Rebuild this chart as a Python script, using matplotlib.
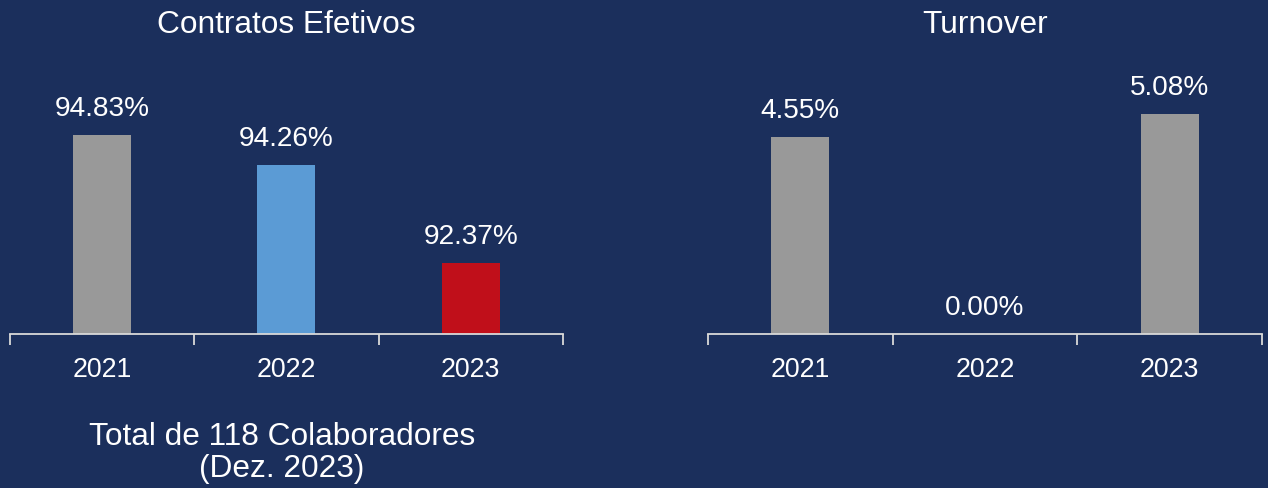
import matplotlib
matplotlib.use("Agg")
import matplotlib.pyplot as plt
import numpy as np

plt.rcParams['font.family'] = ['Liberation Sans', 'DejaVu Sans']

years = ["2021", "2022", "2023"]
contratos = [94.83, 94.26, 92.37]
turnover = [4.55, 0.00, 5.08]
contratos_colors = ["#999999", "#5B9BD5", "#C00F1A"]
turnover_colors = ["#999999", "#999999", "#999999"]
title_left = "Contratos Efetivos"
title_right = "Turnover"
note_lines = ["Total de 118 Colaboradores", "(Dez. 2023)"]

BG = "#1B2F5C"
W, H = 1268, 489
fig = plt.figure(figsize=(W / 100, H / 100), dpi=100, facecolor=BG)

base_px = 335
top_px = 60

def px_rect(x0, x1):
    return [x0 / W, (H - base_px) / H, (x1 - x0) / W, (base_px - top_px) / H]

def panel(rect, vals, colors, ymin, ppu):
    ax = fig.add_axes(rect)
    ax.set_facecolor(BG)
    x = np.arange(len(vals))
    ax.bar(x, np.array(vals) - ymin, bottom=ymin, width=0.313, color=colors)
    ax.set_xlim(-0.5, len(vals) - 0.5)
    ax.set_ylim(ymin, ymin + (base_px - top_px) / ppu)
    for s in ["top", "right", "left"]:
        ax.spines[s].set_visible(False)
    ax.spines["bottom"].set_color("#D9D9D9")
    ax.spines["bottom"].set_linewidth(1.3)
    ax.set_yticks([])
    ax.set_xticks(x)
    ax.set_xticklabels(years, color="white", fontsize=19.3)
    ax.tick_params(axis="x", which="major", length=0, pad=16)
    ax.set_xticks(np.arange(-0.5, len(vals), 1.0), minor=True)
    ax.tick_params(axis="x", which="minor", length=8, width=1.3, color="#D9D9D9")
    for xi, v in zip(x, vals):
        ax.annotate(f"{v:.2f}%", (xi, v), xytext=(0, 19.5), textcoords="offset points",
                    ha="center", va="center", color="white", fontsize=20.2)
    return ax

axl = panel(px_rect(9.6, 563), contratos, contratos_colors, 91.0, 51.9)
axr = panel(px_rect(708, 1262), turnover, turnover_colors, 0.0, 43.3)

fig.text(286 / W, 1 - 25 / H, title_left, ha="center", va="center", color="white", fontsize=22.8)
fig.text(985 / W, 1 - 25 / H, title_right, ha="center", va="center", color="white", fontsize=22.8)
for line, ypx in zip(note_lines, [437, 469]):
    fig.text(282 / W, 1 - ypx / H, line, ha="center", va="center", color="white", fontsize=22.8)

fig.savefig("out.png", dpi=100, facecolor=BG)
